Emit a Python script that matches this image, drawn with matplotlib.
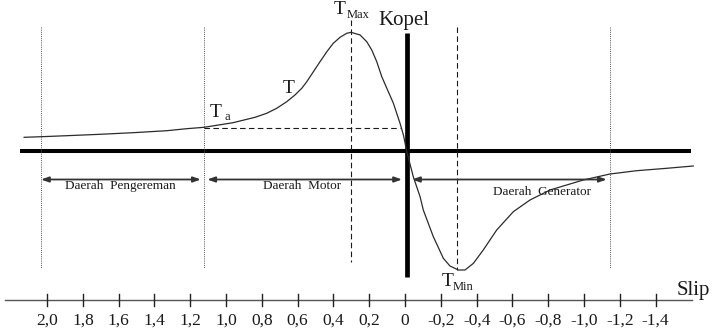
import matplotlib
matplotlib.use("Agg")
import matplotlib.pyplot as plt

# torque-slip curve of an induction machine (slip, torque in arbitrary units)
slip = [2.128, 2.030, 1.890, 1.704, 1.520, 1.331, 1.220, 1.123, 1.052, 0.961,
        0.838, 0.773, 0.717, 0.661, 0.615, 0.577, 0.549, 0.512, 0.475, 0.437,
        0.401, 0.363, 0.326, 0.302, 0.251, 0.214, 0.186, 0.158, 0.130, 0.065,
        0.028, 0.009, -0.009, -0.046, -0.084, -0.102, -0.158, -0.214, -0.251,
        -0.298, -0.335, -0.382, -0.437, -0.512, -0.605, -0.698, -0.810, -0.903,
        -0.996, -1.145, -1.294, -1.462, -1.610]
torque = [13.7, 14.3, 15.3, 16.7, 18.3, 20.3, 22.3, 23.7, 25.7, 28.3,
          33.7, 37.7, 42.7, 49.3, 56, 62.7, 69.3, 79.3, 89.3, 99.3,
          107.7, 113.7, 117.7, 118.7, 116, 109.3, 101, 89.3, 74.3, 47.7,
          27.7, 16, 0, -25.7, -45.7, -59, -85.7, -107.3, -115,
          -119, -119, -112.3, -99, -79, -60.7, -49, -39, -34,
          -29, -23, -19.7, -17.3, -15]

tick_vals = [2.0, 1.8, 1.6, 1.4, 1.2, 1.0, 0.8, 0.6, 0.4, 0.2, 0.0,
             -0.2, -0.4, -0.6, -0.8, -1.0, -1.2, -1.4]
tick_labels = ["2,0", "1,8", "1,6", "1,4", "1,2", "1,0", "0,8", "0,6", "0,4",
               "0,2", "0", "-0,2", "-0,4", "-0,6", "-0,8", "-1,0", "-1,2", "-1,4"]

s_tmax = 0.302      # slip at maximum torque
s_tmin = -0.291     # slip at minimum torque
t_start = 23.5      # starting torque Ta
s_brake = 2.034     # region borders
s_start = 1.123
s_gen = -1.145

# region labels: (text, left slip, baseline torque)
regions = [("Daerah  Pengereman", 1.899, -38),
           ("Daerah  Motor", 0.793, -38),
           ("Daerah  Generator", -0.492, -44)]

plt.rcParams["font.family"] = ["Liberation Serif", "DejaVu Serif"]
INK = "#1a1a1a"

fig = plt.figure(figsize=(7.12, 3.31), dpi=100)
ax = fig.add_axes([0, 0, 1, 1])
ax.set_xlim(2.263, -1.715)
ax.set_ylim(-180, 151)
ax.axis("off")

# main axes (torque = 0 and the Kopel axis)
ax.plot([2.151, -1.598], [0, 0], color="black", lw=2.9, solid_capstyle="butt")
ax.plot([-0.011, -0.011], [118, -126], color="black", lw=3.4, solid_capstyle="butt")

# guide lines
ax.plot([s_start, 0.028], [t_start, t_start], color=INK, lw=0.8, ls=(0, (5, 3)))
ax.plot([s_tmax, s_tmax], [131, -111], color=INK, lw=0.8, ls=(0, (5, 3)))
ax.plot([s_tmin, s_tmin], [124, -119], color=INK, lw=0.8, ls=(0, (5, 3)))
for s in (s_brake, s_start, s_gen):
    ax.plot([s, s], [124, -117], color="#555555", lw=0.7, ls=(0, (1, 1.2)))

# curve
ax.plot(slip, torque, color="#2b2b2b", lw=0.9, solid_joinstyle="round")

# region arrows
arrow_y = -28.5
arrows = [(s_brake, s_start + 0.018), (s_start - 0.018, 0.017), (-0.039, s_gen + 0.018)]
for a, b in arrows:
    ax.annotate("", xy=(b, arrow_y), xytext=(a, arrow_y),
                arrowprops=dict(arrowstyle="<|-|>,head_length=0.45,head_width=0.16",
                                color="#333333", lw=1.3, shrinkA=0, shrinkB=0))
for txt, x, y in regions:
    ax.text(x, y, txt, fontsize=9.5, color=INK, ha="left", va="baseline")

# slip axis with ticks
ax.plot([2.235, -1.603], [-149, -149], color="#555555", lw=1.0)
for v, lab in zip(tick_vals, tick_labels):
    ax.plot([v, v], [-143, -155], color="#222222", lw=1.0)
    ax.text(v, -174, lab, fontsize=12.5, color=INK, ha="center", va="baseline")
ax.text(-1.520, -144, "Slip", fontsize=15, color=INK, ha="left", va="baseline")

# labels
ax.text(0.151, 126, "Kopel", fontsize=15, color=INK, ha="left", va="baseline")
ax.text(0.397, 136.5, "T", fontsize=14, color=INK, ha="left", va="baseline")
ax.text(0.324, 133.5, "Max", fontsize=9, color=INK, ha="left", va="baseline")
ax.text(0.682, 58, "T", fontsize=14, color=INK, ha="left", va="baseline")
ax.text(1.089, 34, "T", fontsize=14, color=INK, ha="left", va="baseline")
ax.text(1.011, 31.5, "a", fontsize=9, color=INK, ha="left", va="baseline")
ax.text(-0.207, -135, "T", fontsize=14, color=INK, ha="left", va="baseline")
ax.text(-0.268, -139, "Min", fontsize=9, color=INK, ha="left", va="baseline")

fig.savefig("out.png", dpi=100)
